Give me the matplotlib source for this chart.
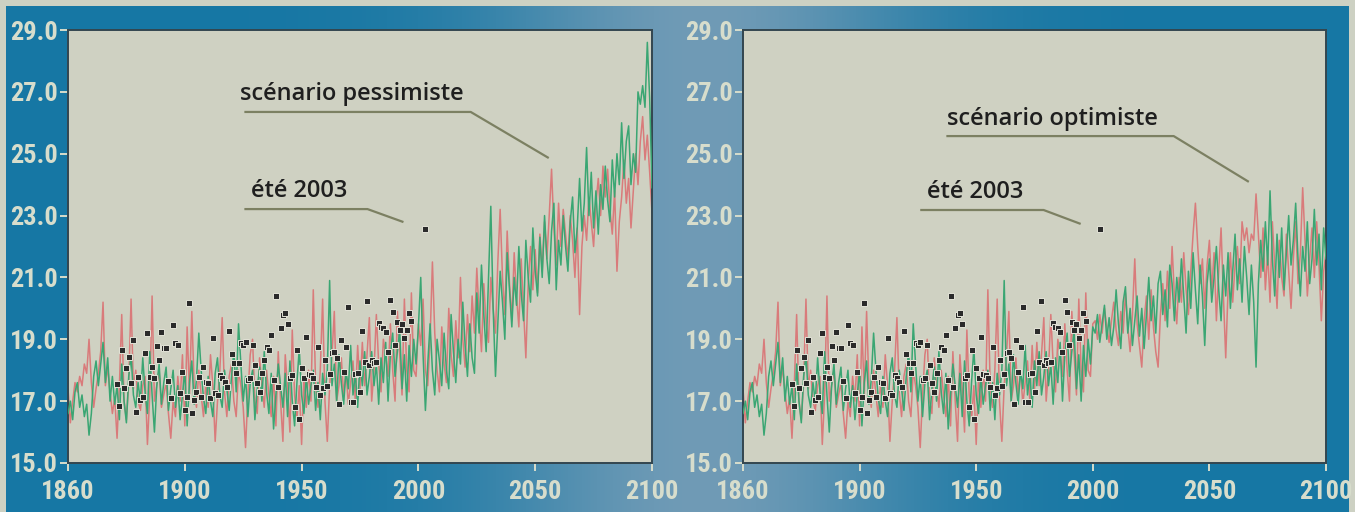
import numpy as np
import matplotlib
matplotlib.use("Agg")
import matplotlib.pyplot as plt
from matplotlib import font_manager

# ---------------- data ----------------
y_ticks = [15.0, 17.0, 19.0, 21.0, 23.0, 25.0, 27.0, 29.0]
x_tick_years = [1850, 1900, 1950, 2000, 2050, 2100]
x_tick_labels = ["1860", "1900", "1950", "2000", "2050", "2100"]

hist_start = 1850
red_hist = [
    17.4, 16.3, 17.0, 17.6, 17.3, 17.8, 17.5, 18.2, 17.9, 19.0,
    17.6, 16.8, 17.4, 17.9, 18.6, 20.2, 17.5, 18.1, 17.3, 16.6,
    17.1, 15.8, 17.5, 19.8, 17.0, 16.4, 17.6, 20.3, 17.4, 18.0,
    17.0, 16.7, 17.5, 17.8, 15.6, 17.2, 20.4, 17.0, 17.5, 18.0,
    16.8, 17.2, 17.6, 16.6, 15.8, 17.0, 16.5, 17.8, 17.0, 18.5,
    16.2, 19.4, 17.2, 19.9, 17.5, 16.8, 18.0, 17.2, 16.5, 17.6,
    16.8, 18.5, 17.5, 15.7, 17.0, 18.0, 19.7, 17.3, 16.5, 17.8,
    18.2, 17.0, 16.5, 18.0, 17.5, 16.8, 15.5, 17.2, 18.5, 19.0,
    17.0, 16.6, 18.4, 17.5, 16.8, 18.0, 17.2, 16.5, 17.8, 16.2,
    18.6, 17.0, 15.7, 18.5, 17.4, 16.0, 19.3, 17.2, 16.4, 17.5,
    15.6, 17.8, 16.8, 18.0, 17.0, 20.6, 17.5, 16.8, 18.0, 20.3,
    17.0, 15.7, 17.5, 18.5, 19.9, 17.0, 17.5, 18.4, 17.2, 18.0,
    16.9, 17.6, 18.3, 17.0, 18.8, 17.4, 18.9, 17.5, 18.5, 19.7,
    17.0, 18.0, 19.8, 18.2, 17.3, 19.0, 18.5, 17.8, 19.5, 18.0,
    17.0, 19.9, 18.5, 17.2, 20.3, 18.0, 17.3, 20.5, 18.0, 17.8,
    19.5,
]
green_hist = [
    16.6, 17.0, 16.4, 17.3, 17.6, 16.8, 17.2, 16.5, 16.9, 15.9,
    16.6, 17.8, 18.3, 17.5, 18.2, 18.9, 17.6, 18.4, 17.0, 17.8,
    16.9, 17.5, 16.4, 18.2, 17.0, 16.3, 17.8, 18.5, 17.2, 16.8,
    17.6, 17.0, 18.4, 17.3, 16.6, 18.6, 17.2, 16.0, 17.5, 18.2,
    16.9, 17.6, 18.1, 16.7, 17.4, 18.0, 16.8, 17.5, 16.4, 17.2,
    18.0, 16.2, 17.6, 18.3, 16.9, 17.7, 19.2, 18.0, 17.1, 16.6,
    17.8, 17.0, 16.5, 17.9, 18.4, 17.2, 16.8, 18.0, 17.4, 16.7,
    17.8, 18.6, 17.3, 19.5, 18.2, 17.0, 17.8, 16.5, 17.6, 18.0,
    16.4, 17.4, 18.1, 17.0, 18.6, 17.3, 16.6, 17.9, 16.1, 17.2,
    18.2, 17.5, 16.8, 17.9, 16.5, 18.3, 17.0, 16.2, 17.6, 18.7,
    17.2, 16.6, 17.8, 16.9, 17.5, 18.0, 16.7, 17.6, 16.4, 17.9,
    17.2, 18.0, 20.9, 17.5, 18.2, 17.0, 18.5, 17.6, 16.9, 18.0,
    17.4, 18.8, 17.2, 17.9, 16.8, 18.3, 17.5, 18.6, 17.2, 17.8,
    18.6, 17.5, 18.2, 16.9, 18.4, 17.6, 18.9, 17.0, 18.5, 19.2,
    17.8, 18.6, 19.3, 17.4, 18.5, 17.0, 18.8, 17.8, 19.0, 18.2,
    19.4,
]

future_start = 2001
# scénario pessimiste (left panel)
red_pess = [
    18.8, 20.3, 18.0, 17.5, 19.0, 21.5, 19.2, 18.0, 17.3, 19.4,
    18.2, 17.6, 20.0, 18.5, 17.8, 19.6, 18.4, 21.0, 19.0, 18.1,
    19.8, 18.6, 20.4, 19.2, 21.3, 19.8, 18.6, 20.8, 19.5, 18.9,
    21.0, 20.0, 19.2, 21.5, 23.2, 21.0, 19.8, 22.5, 20.8, 19.6,
    21.8, 20.4, 19.4, 21.6, 20.0, 18.4, 20.8, 22.0, 20.6, 21.9,
    20.5, 22.4, 21.2, 22.8, 21.6, 23.0, 24.5, 22.6, 21.4, 23.4,
    22.0, 23.2, 22.4, 21.6, 23.0, 22.2, 21.0, 22.6, 19.8, 22.0,
    23.0, 22.2, 23.6, 22.8, 22.0, 23.4, 24.2, 23.0, 24.6, 23.6,
    24.5, 23.2, 22.4, 23.8, 21.2, 22.8, 23.6, 24.8, 23.4, 24.2,
    22.6, 23.8, 25.0, 24.0, 25.4, 26.2, 24.8, 25.6, 24.4, 23.1,
]
green_pess = [
    21.0, 18.5, 16.7, 18.2, 19.5, 18.0, 17.2, 19.0, 18.3, 17.5,
    19.2, 18.0, 17.4, 19.8, 18.6, 17.6, 19.0, 18.2, 20.2, 18.8,
    17.8, 19.5, 18.4, 17.9, 20.5, 19.2, 21.4, 19.8, 18.6, 21.0,
    23.3, 20.0, 17.8, 19.5, 21.2, 20.2, 19.0, 21.8, 20.6, 19.4,
    21.0, 20.1, 22.0, 20.5, 19.6, 22.2, 21.0, 20.2, 22.6, 21.2,
    20.4, 22.3, 21.0, 23.0, 21.6, 20.8, 22.5, 23.4, 20.6, 22.2,
    21.4, 23.0, 22.0, 21.2, 22.8, 23.6, 21.8, 22.6, 24.2, 22.5,
    23.4, 25.2, 23.0, 24.4, 22.6, 23.8, 22.4, 24.0, 23.2, 24.6,
    23.5, 22.8, 24.8, 23.6, 25.0, 24.0, 26.0, 24.2, 25.4, 25.9,
    24.0, 25.0, 24.4, 27.0, 26.6, 27.2, 26.5, 28.6, 26.8, 23.9,
]
# scénario optimiste (right panel)
red_opt = [
    19.6, 19.0, 19.8, 19.2, 20.0, 19.4, 18.9, 19.6, 20.2, 19.3,
    18.8, 19.9, 19.2, 20.5, 19.4, 18.6, 19.8, 21.6, 19.5, 18.8,
    18.1, 19.6, 20.4, 19.0, 20.6, 19.4, 18.6, 18.1, 19.8, 20.8,
    19.6, 21.2, 20.0, 22.0, 20.4, 19.5, 21.0, 20.2, 21.8, 20.6,
    19.8, 21.2, 22.4, 23.4, 22.0, 20.8, 21.6, 20.0, 21.4, 22.2,
    20.6, 21.8, 19.6, 21.2, 22.6, 20.4, 18.4, 20.6, 21.8, 20.2,
    21.4, 22.0, 20.8, 22.8, 22.2, 22.6, 21.8, 22.4, 22.2, 23.7,
    22.4, 21.0, 22.6, 20.6, 21.8, 20.2, 22.8, 21.4, 20.0, 22.2,
    21.0, 20.4, 22.4, 21.2, 20.0, 21.6, 22.8, 20.8, 21.8, 23.9,
    22.2, 20.4, 21.6, 22.6, 21.0, 22.8, 21.4, 19.6, 21.2, 21.8,
]
green_opt = [
    19.2, 19.8, 18.9, 19.5, 20.1, 19.0, 19.7, 18.8, 19.4, 20.6,
    19.5, 18.7, 20.2, 20.7, 19.2, 20.0, 18.8, 19.6, 20.4, 19.1,
    20.0, 18.7, 19.8, 21.0, 19.6, 20.4, 19.2, 20.8, 21.2, 19.8,
    20.6, 19.4, 21.4, 20.8, 19.6, 21.0, 20.2, 21.6, 20.4, 19.2,
    21.2, 20.0, 21.8, 20.6, 19.5, 21.4, 20.4, 18.8, 20.8, 21.6,
    20.2, 21.0, 22.0, 20.6, 19.6, 21.4, 20.4, 21.8, 20.0, 21.2,
    22.4, 20.6, 21.6, 20.2, 22.0, 21.0, 19.8, 21.4, 20.2, 18.1,
    20.8, 22.2, 21.2, 22.8, 21.4, 23.8, 21.6, 20.4, 22.4, 21.0,
    22.6, 20.6, 21.8, 23.0, 21.4, 22.2, 23.4, 21.6, 20.4, 22.0,
    21.2, 22.8, 20.8, 21.6, 23.2, 21.4, 22.4, 20.6, 22.6, 21.6,
]

obs_start = 1871
observed = [
    17.54, 16.85, 18.65, 17.41, 18.06, 18.42, 17.58, 18.98, 16.64, 17.77,
    17.04, 17.15, 18.55, 19.21, 17.77, 18.12, 17.74, 18.78, 18.33, 19.25,
    18.71, 18.73, 17.65, 17.09, 19.46, 18.87, 18.82, 17.25, 17.95, 16.71,
    17.15, 20.16, 16.63, 17.04, 17.31, 17.79, 17.15, 18.12, 17.63, 17.58,
    17.09, 19.03, 17.25, 17.20, 17.85, 17.74, 17.63, 17.47, 19.27, 18.53,
    18.22, 17.90, 18.22, 18.87, 18.82, 18.92, 17.68, 17.74, 18.82, 18.17,
    17.58, 17.31, 17.90, 18.33, 18.76, 18.65, 19.14, 17.68, 20.41, 17.45,
    19.38, 19.79, 19.84, 19.49, 17.74, 17.85, 16.82, 18.65, 16.41, 18.06,
    17.74, 19.06, 17.88, 17.85, 17.74, 17.47, 18.76, 17.20, 17.41, 18.33,
    17.49, 17.88, 18.55, 18.60, 18.39, 16.91, 18.98, 17.95, 18.76, 20.03,
    16.98, 16.98, 17.88, 17.90, 17.31, 19.28, 18.28, 20.25, 18.17, 18.33,
    18.22, 18.28, 19.52, 19.41, 19.35, 19.25, 18.60, 20.27, 19.89, 18.82,
    19.57, 19.30, 19.50, 19.04, 19.30, 19.85, 19.60,
]
summer2003_year = [2003]
summer2003_value = [22.57]

panels = [
    dict(red=red_pess, green=green_pess, label="scénario pessimiste",
         lab_xy=(1923.8, 26.74),
         lead=[(1925.5, 26.35), (2022.4, 26.35), (2055.8, 24.86)],
         ete_xy=(1928.5, 23.60),
         ete_lead=[(1925.5, 23.21), (1978.2, 23.21), (1993.6, 22.79)]),
    dict(red=red_opt, green=green_opt, label="scénario optimiste",
         lab_xy=(1937.6, 25.93),
         lead=[(1937.2, 25.57), (2034.7, 25.57), (2066.9, 24.09)],
         ete_xy=(1929.0, 23.57),
         ete_lead=[(1926.0, 23.18), (1978.9, 23.18), (1994.8, 22.73)]),
]

# ---------------- style ----------------
W, H = 1355, 512
fig = plt.figure(figsize=(W / 100, H / 100), dpi=100)
fig.patch.set_facecolor("#cdd1c3")

# choose a condensed bold face for tick labels
ttf = font_manager.fontManager.ttflist
names = {f.name for f in ttf}
cond_stretch = {"condensed", "semi-condensed", "extra-condensed", "ultra-condensed"}
tick_font = None
for cand in ["Roboto Condensed", "Liberation Sans Narrow", "DejaVu Sans Condensed",
             "Open Sans Condensed", "Noto Sans Condensed", "Archivo Narrow"]:
    if cand in names:
        tick_font = dict(family=[cand, "DejaVu Sans"], stretch="normal", size=19)
        break
if tick_font is None:
    for fam in ["Noto Sans", "DejaVu Sans", "Roboto", "Open Sans"]:
        if any(f.name == fam and str(f.stretch) in cond_stretch for f in ttf):
            tick_font = dict(family=[fam], stretch="condensed", size=19)
            break
if tick_font is None:
    tick_font = dict(family=["DejaVu Sans"], stretch="normal", size=14)

ann_family = ["Open Sans", "DejaVu Sans"]

# blue gradient background
bg = fig.add_axes([6 / W, 0, (1349 - 6) / W, (512 - 6) / H])
bg.set_axis_off()
xs = np.linspace(6, 1349, 800)
prof = np.exp(-((xs - 705) / 215.0) ** 2)
dark = np.array([22, 119, 164]) / 255.0
light = np.array([112, 155, 182]) / 255.0
grad = dark[None, :] * (1 - prof[:, None]) + light[None, :] * prof[:, None]
bg.imshow(grad[None, :, :], aspect="auto", extent=[0, 1, 0, 1], interpolation="bilinear")
bg.set_xlim(0, 1)
bg.set_ylim(0, 1)

RED = "#d97b7b"
GREEN = "#3aa673"
LEAD = "#7c8062"
TICKC = "#d7ddcc"

axes_pos = [(68, 652), (743, 1326)]
top_px, bot_px = 30, 463

for (x0, x1), p in zip(axes_pos, panels):
    ax = fig.add_axes([x0 / W, (H - bot_px) / H, (x1 - x0) / W, (bot_px - top_px) / H])
    ax.set_facecolor("#cfd1c2")
    yrs_rh = np.arange(hist_start, hist_start + len(red_hist))
    yrs_gh = np.arange(hist_start, hist_start + len(green_hist))
    red_y = list(red_hist) + list(p["red"])
    green_y = list(green_hist) + list(p["green"])
    red_x = np.concatenate([yrs_rh, np.arange(future_start, future_start + len(p["red"]))])
    green_x = np.concatenate([yrs_gh, np.arange(future_start, future_start + len(p["green"]))])
    ax.plot(red_x, red_y, color=RED, lw=1.1, zorder=2)
    ax.plot(green_x, green_y, color=GREEN, lw=1.1, zorder=3)
    obs_x = np.arange(obs_start, obs_start + len(observed))
    ax.plot(obs_x, observed, ls="none", marker="s", ms=4.8, mfc="#2b2b2b",
            mec="#e4e4d8", mew=0.7, zorder=4)
    ax.plot(summer2003_year, summer2003_value, ls="none", marker="s", ms=4.8,
            mfc="#2b2b2b", mec="#e4e4d8", mew=0.7, zorder=4)

    ax.set_xlim(1850, 2100)
    ax.set_ylim(15, 29)
    ax.set_yticks(y_ticks)
    ax.set_yticklabels([f"{v:.1f}" for v in y_ticks])
    ax.set_xticks(x_tick_years)
    ax.set_xticklabels(x_tick_labels)
    ax.tick_params(axis="both", direction="out", length=6, width=1.4, color=TICKC,
                   labelcolor=TICKC)
    ax.tick_params(axis="y", pad=1)
    ax.tick_params(axis="x", pad=6)
    for lab in ax.get_xticklabels() + ax.get_yticklabels():
        lab.set_family(tick_font["family"])
        lab.set_stretch(tick_font["stretch"])
        lab.set_fontsize(tick_font["size"])
        lab.set_fontweight("bold")
    for s in ax.spines.values():
        s.set_color("#33464f")
        s.set_linewidth(1.4)

    # annotations
    ax.text(*p["lab_xy"], p["label"], family=ann_family, fontweight="semibold",
            fontsize=17, color="#1f1f1f", ha="left", va="baseline", zorder=6)
    lx, ly = zip(*p["lead"])
    ax.plot(lx, ly, color=LEAD, lw=1.6, zorder=5, solid_capstyle="butt")
    ax.text(*p["ete_xy"], "été 2003", family=ann_family, fontweight="semibold",
            fontsize=17, color="#1f1f1f", ha="left", va="baseline", zorder=6)
    ex, ey = zip(*p["ete_lead"])
    ax.plot(ex, ey, color=LEAD, lw=1.6, zorder=5, solid_capstyle="butt")

fig.savefig("out.png", dpi=100, facecolor=fig.get_facecolor())
